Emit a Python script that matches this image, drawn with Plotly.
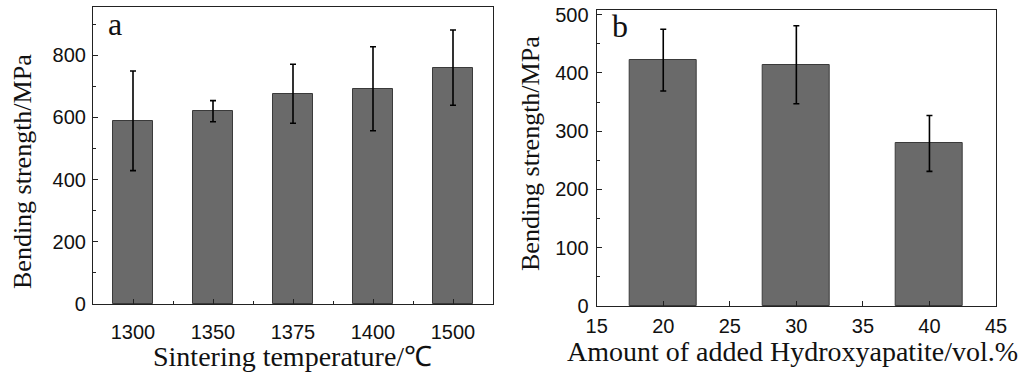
import plotly.graph_objects as go

# Panel a
temps = ["1300", "1350", "1375", "1400", "1500"]
strength_a = [589, 620, 676, 692, 760]
err_a = [160, 34, 95, 135, 121]

# Panel b
ha_vol = [20, 30, 40]
strength_b = [422, 414, 279]
err_b = [53, 67, 48]

W, H = 1021, 373


def px(x):
    return x / W


def py(y):
    return 1 - y / H


bar_color = "#6a6a6a"
line_color = "#3a3a3a"
pos_a = list(range(len(temps)))

fig = go.Figure()
fig.add_trace(go.Bar(
    x=pos_a, y=strength_a, width=0.5,
    marker=dict(color=bar_color, line=dict(color=line_color, width=1)),
    error_y=dict(type="data", array=err_a, color="black", thickness=1.6, width=3),
    xaxis="x", yaxis="y", showlegend=False))
fig.add_trace(go.Bar(
    x=ha_vol, y=strength_b, width=5,
    marker=dict(color=bar_color, line=dict(color=line_color, width=1)),
    error_y=dict(type="data", array=err_b, color="black", thickness=1.6, width=3),
    xaxis="x2", yaxis="y2", showlegend=False))

tickfont = dict(family="Liberation Sans, Arial", size=20, color="#111")
axline = dict(showline=True, linecolor="#222", linewidth=1.2, mirror=True,
              ticks="inside", tickcolor="#222", ticklen=5, showgrid=False,
              zeroline=False, tickfont=tickfont, automargin=False)

fig.update_layout(
    width=W, height=H,
    margin=dict(l=0, r=0, t=0, b=0, pad=0, autoexpand=False),
    paper_bgcolor="white", plot_bgcolor="white",
    bargap=0,
    xaxis=dict(domain=[px(93), px(493)], anchor="y",
               range=[-0.5, len(temps) - 0.5], tickvals=pos_a, ticktext=temps,
               ticklabelstandoff=10,
               minor=dict(tick0=0.5, dtick=1, ticks="inside", ticklen=3, tickcolor="#222"),
               **axline),
    yaxis=dict(domain=[py(304), py(7)], anchor="x", range=[0, 955],
               tickvals=[0, 200, 400, 600, 800], ticklabelstandoff=2,
               minor=dict(dtick=100, ticks="inside", ticklen=3, tickcolor="#222"),
               **axline),
    xaxis2=dict(domain=[px(596.7), px(996)], anchor="y2", range=[15, 45],
                dtick=5, ticklabelstandoff=2, **axline),
    yaxis2=dict(domain=[py(306), py(10)], anchor="x2", range=[0, 508],
                dtick=100, ticklabelstandoff=3,
                minor=dict(dtick=50, ticks="inside", ticklen=3, tickcolor="#222"),
                **axline),
)

serif = "Liberation Serif, Times New Roman"
xt_font = dict(family=serif, size=28, color="#111")
yt_font = dict(family=serif, size=26, color="#111")
ann = [
    dict(text="Bending strength/MPa", x=px(22), y=py(172), textangle=-90, font=yt_font),
    dict(text="Bending strength/MPa", x=px(530), y=py(154), textangle=-90, font=yt_font),
    dict(text="Sintering temperature/℃", x=px(292), y=py(356), font=xt_font),
    dict(text="Amount of added Hydroxyapatite/vol.%", x=px(792), y=py(351), font=xt_font),
]
for a in ann:
    fig.add_annotation(xref="paper", yref="paper", xanchor="center", yanchor="middle",
                       showarrow=False, **a)

fig.add_annotation(text="a", xref="paper", yref="paper", x=px(115), y=py(24),
                   xanchor="center", yanchor="middle", showarrow=False,
                   font=dict(family=serif, size=32, color="#111"))
fig.add_annotation(text="b", xref="paper", yref="paper", x=px(620), y=py(26),
                   xanchor="center", yanchor="middle", showarrow=False,
                   font=dict(family=serif, size=32, color="#111"))

fig.write_html("out.html", config={"displayModeBar": False},
               post_script="document.body.style.margin='0';")
